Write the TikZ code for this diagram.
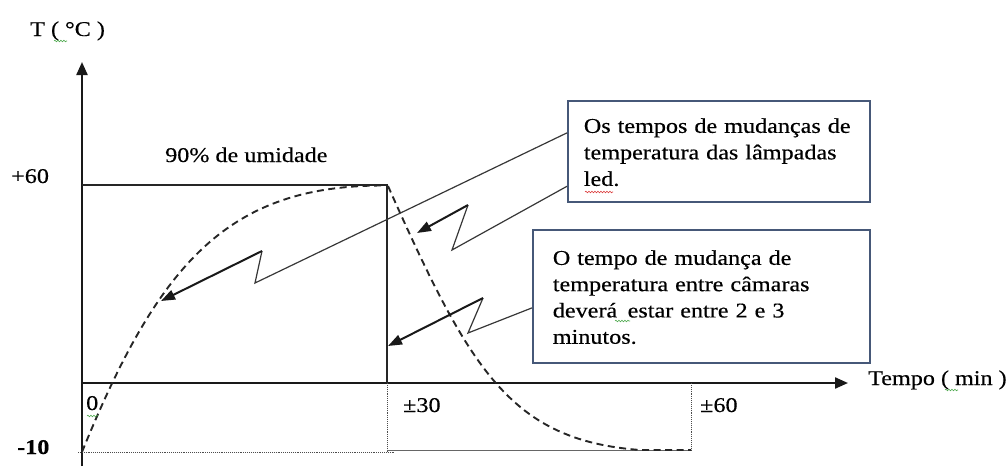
\documentclass[tikz,border=0pt]{standalone}
\usepackage{fontspec}
\setmainfont{Liberation Serif}[FakeStretch=1.15,FakeBold=0.4]
\usetikzlibrary{arrows.meta,calc,decorations.pathmorphing}
\definecolor{boxc}{RGB}{70,88,120}
\definecolor{leadc}{RGB}{55,55,55}
\definecolor{sqg}{RGB}{80,170,80}
\definecolor{sqr}{RGB}{220,60,60}
\begin{document}
\begin{tikzpicture}[x=1pt,y=-1pt,
  lbl/.style={inner sep=0pt,anchor=base west,font=\fontsize{21}{25}\selectfont},
  axis/.style={line width=2.2pt,black!90,-{Triangle[length=13pt,width=11pt]}},
  frame/.style={line width=1.9pt,black!85},
  dotl/.style={densely dotted,line width=0.9pt,black!70},
  curve/.style={line width=1.9pt,dash pattern=on 7pt off 4.5pt,black!85},
  callout/.style={draw=boxc,line width=1.7pt,fill=white,align=left,anchor=north west},
  leader/.style={line width=1.2pt,leadc},
  leadarrow/.style={line width=2pt,black!90,-{Triangle[length=14pt,width=10pt]}},
  squig/.style={decorate,decoration={snake,amplitude=0.8pt,segment length=3pt},line width=0.6pt}]
\useasboundingbox (0,0) rectangle (1006,466);

% axes
\coordinate (o) at (82,383);
\coordinate (ytop) at (82,62);
\coordinate (ybot) at (82,466);
\coordinate (xend) at (848,383);
\draw[axis] (ybot) -- (ytop);
\draw[axis] (o) -- (xend);

% frame and guides
\coordinate (c60) at (82,185);
\coordinate (k60) at (387,185);
\coordinate (k0) at (387,383);
\draw[frame] (c60) -- (k60) -- (k0);
\draw[dotl] (387,383) -- (387,452);
\draw[dotl] (691,383) -- (691,450);
\draw[dotl] (78,452) -- (395,452);
\draw[line width=1pt,black!60] (387,450) -- (691,450);

% dashed temperature curve
\draw[curve] (82,452) .. controls (160,260) and (230,185) .. (385,185.5);
\draw[curve] (388,186) .. controls (470,370) and (510,440) .. (640,450) -- (691,450);

% labels
\node[lbl] (tl) at (30,36) {T ( °C )};
\node[lbl] (p60) at (11,183) {+60};
\node[lbl] (hum) at (165,162) {90\% de umidade};
\node[lbl,font=\fontsize{21}{25}\selectfont\bfseries] (m10) at (17,454) {-10};
\node[lbl] (z) at (86,410) {0};
\node[lbl] (t30) at (403,412) {±30};
\node[lbl] (t60) at (700,412) {±60};
\node[lbl] (tempo) at (868,385) {Tempo ( min )};

% callout boxes
\node[callout,inner xsep=16pt,inner ysep=12pt,text width=270pt,font=\fontsize{21}{26.5}\selectfont] (b1) at (567,100)
  {\rule{0pt}{20pt}Os tempos de mudanças de\\temperatura das lâmpadas\\led.\rule[-4pt]{0pt}{4pt}};
\node[callout,inner xsep=20pt,inner ysep=15pt,text width=297pt,font=\fontsize{21}{26.3}\selectfont] (b2) at (532,229)
  {\rule{0pt}{20pt}O tempo de mudança de\\temperatura entre câmaras\\deverá\, estar entre 2 e 3\\minutos.\rule[-4pt]{0pt}{4pt}};

% leaders
\coordinate (l1s) at ($(b1.north west)!0.32!(b1.south west)$);
\coordinate (l1a) at (255,283);
\coordinate (l1b) at (262,251);
\coordinate (l1t) at (161,301);
\coordinate (l2s) at ($(b1.north west)!0.84!(b1.south west)$);
\coordinate (l2a) at (452,250);
\coordinate (l2b) at (468,205);
\coordinate (l2t) at (417,233);
\coordinate (l3s) at ($(b2.north west)!0.586!(b2.south west)$);
\coordinate (l3a) at (468,333);
\coordinate (l3b) at (483,298);
\coordinate (l3t) at (388,346);
\draw[leader] (l1s) -- (l1a) -- (l1b);
\draw[leadarrow] (l1b) -- (l1t);
\draw[leader] (l2s) -- (l2a) -- (l2b);
\draw[leadarrow] (l2b) -- (l2t);
\draw[leader] (l3s) -- (l3a) -- (l3b);
\draw[leadarrow] (l3b) -- (l3t);

% spell-check marks
\draw[squig,sqg] (54,41) -- (67,41);
\draw[squig,sqg] (87,416) -- (98,416);
\draw[squig,sqg] (945,390) -- (958,390);
\draw[squig,sqg] (615,321) -- (630,321);
\draw[squig,sqr] (585,192) -- (613,192);
\end{tikzpicture}
\end{document}
